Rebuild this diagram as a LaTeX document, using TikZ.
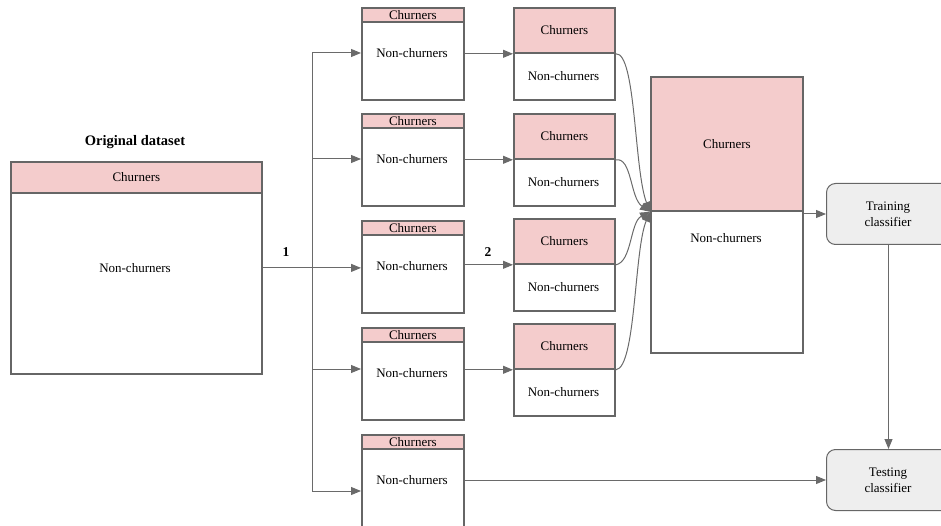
\documentclass[tikz,border=0pt]{standalone}
\usepackage{fontspec}
\setmainfont{Liberation Serif}
\usetikzlibrary{arrows.meta}
\definecolor{pk}{HTML}{F4CCCC}
\definecolor{bc}{HTML}{666666}
\definecolor{lc}{HTML}{6A6A6A}
\definecolor{gf}{HTML}{EEEEEE}
\newcommand\lbfont{\fontsize{13}{16}\selectfont}
\newcommand\bdfont{\fontsize{14.5}{17}\selectfont\bfseries}
\tikzset{
  frame/.style={draw=bc, line width=1.8pt, fill=white, inner sep=0pt, anchor=north west},
  hdr/.style={draw=bc, line width=1.8pt, fill=pk, inner sep=0pt, anchor=north west, font=\lbfont},
  txt/.style={font=\lbfont, inner sep=0pt, align=center},
  btxt/.style={font=\bdfont, inner sep=0pt},
  arr/.style={draw=lc, line width=1pt, -{Triangle[length=10pt,width=8pt]}},
  ln/.style={draw=lc, line width=1pt},
  clf/.style={draw=bc, line width=1pt, fill=gf, rounded corners=9pt, inner sep=0pt, anchor=north west, minimum width=124pt, minimum height=61pt}
}
\begin{document}
\begin{tikzpicture}[x=1pt,y=-1pt]
\useasboundingbox (0,0) rectangle (941,526);
\clip (0,0) rectangle (941,526);
% original dataset
\node[btxt] (ot) at (135,142) {Original dataset};
\node[frame, minimum width=251pt, minimum height=212pt] (o) at (10,161) {};
\node[hdr, minimum width=251pt, minimum height=31pt] (oh) at (10,161) {Churners};
\node[txt] (on) at (135,268) {Non-churners};
% column 2
\foreach \i/\t in {1/7,2/113,3/220,4/327,5/434} {
  \node[frame, minimum width=102pt, minimum height=92pt] (a\i) at (361,\t) {};
  \node[hdr, minimum width=102pt, minimum height=14pt] (ah\i) at (361,\t) {Churners};
  \node[txt] (an\i) at (412,\t+46.5) {Non-churners};
}
% column 3
\foreach \i/\t in {1/7,2/113,3/218,4/323} {
  \node[frame, minimum width=101pt, minimum height=92pt] (b\i) at (513,\t) {};
  \node[hdr, minimum width=101pt, minimum height=45pt] (bh\i) at (513,\t) {Churners};
  \node[txt] (bn\i) at (563.5,\t+69) {Non-churners};
}
% big box
\node[frame, minimum width=152pt, minimum height=276pt] (c) at (650,76) {};
\node[hdr, minimum width=152pt, minimum height=134pt] (ch) at (650,76) {Churners};
\node[txt] (cn) at (726,238) {Non-churners};
% classifiers
\node[clf] (tr) at (826,183) {};
\node[txt] (trl) at (888,214) {Training\\classifier};
\node[clf] (te) at (826,449) {};
\node[txt] (tel) at (888,480) {Testing\\classifier};
% trunk
\coordinate (t1) at (312,53);
\coordinate (t2) at (312,159);
\coordinate (t4) at (312,369);
\coordinate (t5) at (312,491);
\draw[ln] (t1) -- (t5);
\draw[arr] (o.east) -- (o.east -| a3.west);
\foreach \i in {1,2,4,5} {\draw[arr] (t\i) -- (t\i -| a\i.west);}
\node[btxt, font=\fontsize{13.5}{16}\selectfont\bfseries] (l1) at (286,252) {1};
% column 2 -> column 3
\foreach \i in {1,2,3,4} {\draw[arr] (a\i.east |- bh\i.south west) -- (bh\i.south west);}
\node[btxt, font=\fontsize{13.5}{16}\selectfont\bfseries] (l2) at (488,252) {2};
% curves to big box
\draw[arr] (bh1.south east) .. controls (636,52) and (634,170) .. (ch.south west);
\draw[arr] (bh2.south east) .. controls (632,157) and (630,198) .. (ch.south west);
\draw[arr] (bh3.south east) .. controls (632,262) and (630,222) .. (ch.south west);
\draw[arr] (bh4.south east) .. controls (636,368) and (634,250) .. (ch.south west);
% to classifiers
\draw[arr] (c.east |- tr.west) -- (tr.west);
\draw[arr] (tr.south) -- (te.north);
\draw[arr] (a5.east |- te.west) -- (te.west);
\end{tikzpicture}
\end{document}
